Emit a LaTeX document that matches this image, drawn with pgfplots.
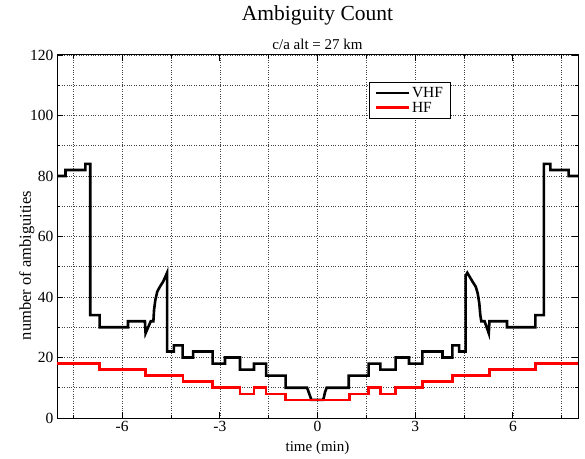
\documentclass[border=0pt]{standalone}
\usepackage{fontspec}
\setmainfont{Liberation Serif}
\usepackage{pgfplots}
\pgfplotsset{compat=1.18}
\begin{document}
\begin{tikzpicture}[x=1pt,y=1pt]
\useasboundingbox (-57,-40) rectangle (528,418);
\begin{axis}[
  at={(0,0)}, anchor=south west,
  scale only axis, width=521pt, height=363pt,
  xmin=-8, xmax=8, ymin=0, ymax=120,
  xtick={-6,-3,0,3,6}, minor xtick={-7.5,-4.5,-1.5,1.5,4.5,7.5},
  ytick={0,20,...,120}, minor ytick={10,30,...,110},
  grid=both,
  major grid style={dotted, line width=0.6pt, black!75},
  minor grid style={dotted, line width=0.6pt, black!75},
  tick align=inside, major tick length=6pt, minor tick length=3pt,
  axis line style={line width=1pt},
  every tick/.style={black, line width=0.8pt},
  tick label style={font=\fontsize{15.5}{18}\selectfont},
  /pgf/number format/assume math mode=true,
  xlabel={time (min)}, ylabel={number of ambiguities},
  xlabel style={font=\fontsize{15}{18}\selectfont, at={(rel axis cs:0.5,0)}, anchor=base, yshift=-33pt},
  ylabel style={font=\fontsize{16.5}{18}\selectfont, at={(rel axis cs:-0.058,0.42)}, anchor=center},
  legend style={at={(rel axis cs:0.599,0.926)}, anchor=north west, draw=black, line width=0.7pt, fill=white,
    font=\fontsize{15.5}{16}\selectfont, inner xsep=5pt, inner ysep=3pt, row sep=-1pt, cells={anchor=west}},
  legend image code/.code={\draw[#1, line width=2.6pt] (0pt,0pt) -- (33pt,0pt);},
]
\addplot[black, line width=2.6pt, line join=miter] coordinates {
(-8,80) (-7.74,80) (-7.74,82) (-7.13,82) (-7.13,84) (-6.98,84) (-6.98,34) (-6.69,34) (-6.69,30)
(-5.82,30) (-5.82,32) (-5.30,32) (-5.28,28) (-5.12,32) (-5.04,32) (-5.02,35.7) (-4.98,39)
(-4.92,41.8) (-4.84,43.4) (-4.74,45.1) (-4.64,47.5) (-4.62,48) (-4.62,22) (-4.41,22) (-4.41,24)
(-4.14,24) (-4.14,20) (-3.82,20) (-3.82,22) (-3.22,22) (-3.22,18) (-2.84,18) (-2.84,20)
(-2.38,20) (-2.38,16) (-1.95,16) (-1.95,18) (-1.58,18) (-1.58,14) (-0.98,14) (-0.98,10)
(-0.32,10) (-0.27,8.5) (-0.22,7) (-0.19,6) (0.17,6) (0.20,7) (0.23,8.5) (0.28,10) (0.96,10)
(0.96,14) (1.57,14) (1.57,18) (1.93,18) (1.93,16) (2.40,16) (2.40,20) (2.81,20) (2.81,18)
(3.22,18) (3.22,22) (3.84,22) (3.84,20) (4.14,20) (4.14,24) (4.35,24) (4.35,22) (4.55,22)
(4.55,47) (4.60,48) (4.76,45.1) (4.86,43.4) (4.92,41.2) (4.97,37.8) (5.00,34) (5.03,32)
(5.13,32) (5.26,28) (5.28,32) (5.82,32) (5.82,30) (6.69,30) (6.69,34) (6.95,34) (6.95,84)
(7.15,84) (7.15,82) (7.71,82) (7.71,80) (8,80)
};
\addlegendentry{VHF}
\addplot[red, line width=2.6pt, line join=miter] coordinates {
(-8,18) (-6.69,18) (-6.69,16) (-5.28,16) (-5.28,14) (-4.13,14) (-4.13,12) (-3.22,12) (-3.22,10)
(-2.38,10) (-2.38,8) (-1.95,8) (-1.95,10) (-1.58,10) (-1.58,8) (-0.98,8) (-0.98,6) (0.98,6)
(0.98,8) (1.57,8) (1.57,10) (1.93,10) (1.93,8) (2.40,8) (2.40,10) (3.22,10) (3.22,12)
(4.14,12) (4.14,14) (5.28,14) (5.28,16) (6.69,16) (6.69,18) (8,18)
};
\addlegendentry{HF}
\end{axis}
\node[font=\fontsize{21.5}{24}\selectfont, anchor=base] at (260.5,397) {Ambiguity Count};
\node[font=\fontsize{15}{18}\selectfont, anchor=base] at (260.5,368) {c/a alt = 27 km};
\end{tikzpicture}
\end{document}
